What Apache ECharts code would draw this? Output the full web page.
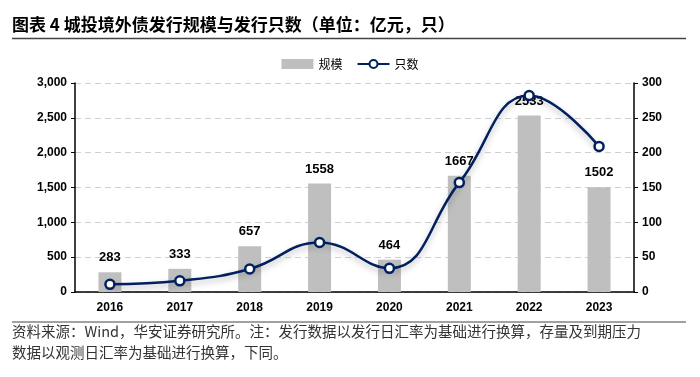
<!DOCTYPE html>
<html><head><meta charset="utf-8">
<script src="https://cdn.jsdelivr.net/npm/echarts@6/dist/echarts.min.js"></script>
<style>html,body{margin:0;padding:0;background:#fff}#c{width:700px;height:377px}</style>
</head><body><div id="c"></div>
<script>
var categories = ['2016','2017','2018','2019','2020','2021','2022','2023'];
var scaleValues = [283, 333, 657, 1558, 464, 1667, 2533, 1502];
var countValues = [11, 16, 33, 71, 34, 157, 282, 209];
var leftTicks = [0, 3000, 500];
var rightTicks = [0, 300, 50];
var titleText = '图表 4 城投境外债发行规模与发行只数（单位：亿元，只）';
var noteLine1 = '资料来源：Wind，华安证券研究所。注：发行数据以发行日汇率为基础进行换算，存量及到期压力';
var noteLine2 = '数据以观测日汇率为基础进行换算，下同。';

var chart = echarts.init(document.getElementById('c'));
var ff = '"Liberation Sans", Arial, "Noto Sans CJK SC", sans-serif';
var cjk = '"Noto Sans CJK SC", sans-serif';
chart.setOption({
  animation: false,
  textStyle: {fontFamily: ff},
  graphic: [
    {type:'text', left: 12, top: 16, style:{text: titleText, font:'bold 17px "Noto Sans CJK SC", sans-serif', fill:'#000'}},
    {type:'line', shape:{x1:12,y1:38.5,x2:686,y2:38.5}, style:{stroke:'#444', lineWidth:1.5}},
    {type:'line', shape:{x1:12,y1:322,x2:686,y2:322}, style:{stroke:'#444', lineWidth:1}},
    {type:'text', left: 12, top: 324, style:{text: noteLine1, font:'14.5px "Noto Sans CJK SC", sans-serif', fill:'#333'}},
    {type:'text', left: 12, top: 345, style:{text: noteLine2, font:'14.5px "Noto Sans CJK SC", sans-serif', fill:'#333'}}
  ],
  legend: {
    top: 53, left: 'center', itemGap: 14, itemWidth: 32, itemHeight: 10,
    textStyle: {fontFamily: cjk, fontSize: 12, color:'#000'},
    data: [{name:'规模', icon:'rect'}, {name:'只数'}]
  },
  grid: {left: 75, right: 66, top: 83, bottom: 85},
  xAxis: {
    type: 'category', data: categories,
    axisLine: {lineStyle:{color:'#000', width:1.5}},
    axisTick: {show:false},
    axisLabel: {color:'#000', fontWeight:'bold', fontSize:12, margin:10}
  },
  yAxis: [
    {type:'value', min:leftTicks[0], max:leftTicks[1], interval:leftTicks[2],
     axisLine:{show:true, lineStyle:{color:'#000', width:1.5}},
     axisTick:{show:true, length:4, lineStyle:{color:'#000'}},
     axisLabel:{color:'#000', fontWeight:'bold', fontSize:12,
       formatter:function(v){return v.toLocaleString('en-US');}},
     splitLine:{lineStyle:{color:'#d0d0d0', type:[6,4]}}},
    {type:'value', min:rightTicks[0], max:rightTicks[1], interval:rightTicks[2],
     axisLine:{show:true, lineStyle:{color:'#000', width:1.5}},
     axisTick:{show:true, length:4, lineStyle:{color:'#000'}},
     axisLabel:{color:'#000', fontWeight:'bold', fontSize:12},
     splitLine:{show:false}}
  ],
  series: [
    {name:'规模', type:'bar', data: scaleValues, barWidth: 23,
     itemStyle:{color:'#bfbfbf'},
     label:{show:true, position:'top', color:'#000', fontWeight:'bold', fontSize:13, distance:8}},
    {name:'只数', type:'line', yAxisIndex:1, data: countValues, smooth: 0.45,
     symbol:'circle', symbolSize: 9,
     lineStyle:{color:'#002060', width:2.5, shadowColor:'rgba(0,0,0,0.3)', shadowBlur:6, shadowOffsetY:3},
     itemStyle:{color:'#fff', borderColor:'#002060', borderWidth:2.5},
     z: 5}
  ]
});
</script></body></html>
